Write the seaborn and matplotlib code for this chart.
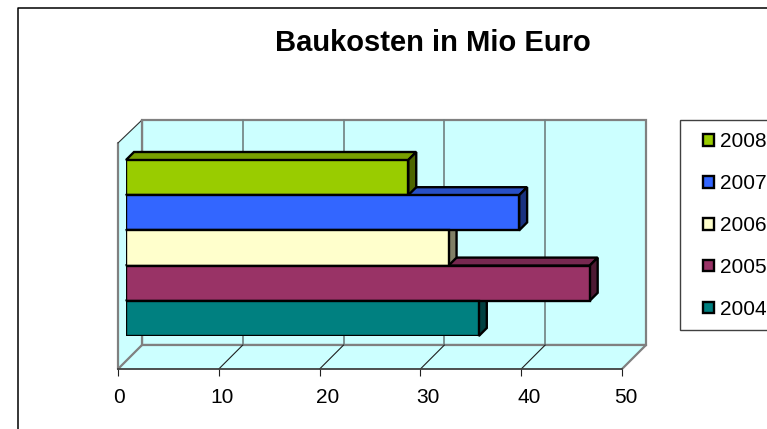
import numpy as np
import pandas as pd
import matplotlib
matplotlib.use("Agg")
import matplotlib.pyplot as plt
import seaborn as sns
from matplotlib.colors import to_rgb
from matplotlib.legend_handler import HandlerPatch
from matplotlib.lines import Line2D
from matplotlib.patches import Patch, Polygon, Rectangle
from matplotlib.transforms import IdentityTransform, ScaledTranslation

years = ["2008", "2007", "2006", "2005", "2004"]
costs = [28, 39, 32, 46, 35]
colors = ["#99CC00", "#3366FF", "#FFFFCC", "#993366", "#008080"]
ticks = [0, 10, 20, 30, 40, 50]
title = "Baukosten in Mio Euro"

W, H = 767, 429
sns.set_theme(style="white")
plt.rcParams["font.family"] = ["Liberation Sans", "DejaVu Sans"]
fig = plt.figure(figsize=(W / 100, H / 100), dpi=100, facecolor="white")


def box(left, top, right, bottom):
    return [left / W, (H - bottom) / H, (right - left) / W, (bottom - top) / H]


def flip(points):
    return [(x, H - y) for x, y in points]


# axis on the front edge of the floor, walls are drawn on this one too
ax2 = fig.add_axes(box(118, 143, 622, 369), zorder=0, facecolor="none")
ax2.set_xlim(0, 50)
ax2.set_yticks([])
for s in ["left", "top", "right"]:
    ax2.spines[s].set_visible(False)
ax2.spines["bottom"].set_color("#404040")
ax2.spines["bottom"].set_linewidth(1.3)
ax2.set_xticks(ticks)
ax2.tick_params(axis="x", length=5, width=0.8, color="#202020", pad=9,
                labelsize=15, labelcolor="black", bottom=True)
shifts = [1, 3, 8, 8, 8, 4]
for lab, s in zip(ax2.get_xticklabels(), shifts):
    lab.set_transform(lab.get_transform() + ScaledTranslation(s / 100, 0, fig.dpi_scale_trans))


def wall(points, **kw):
    ax2.add_patch(Polygon(flip(points), closed=True, transform=IdentityTransform(),
                          clip_on=False, **kw))


def line(xs, ys, color, lw):
    ax2.add_line(Line2D(xs, [H - y for y in ys], color=color, lw=lw,
                        transform=IdentityTransform(), clip_on=False))


cyan = "#CCFFFF"
gray = "#808080"
wall([(142, 120), (646, 120), (646, 345), (142, 345)], fc=cyan, ec=gray, lw=1.6)
wall([(118, 143), (142, 120), (142, 345), (118, 369)], fc=cyan, ec="none")
wall([(118, 369), (142, 345), (646, 345), (622, 369)], fc=cyan, ec="none")
line([118, 118], [143, 369], gray, 1.6)
line([118, 142], [143, 120], "#303030", 0.8)
line([118, 142], [369, 345], gray, 1.6)
line([622, 646], [369, 345], gray, 1.6)
line([142, 646], [345, 345], gray, 1.6)
line([142, 142], [120, 345], gray, 1.6)
for t in ticks[1:-1]:
    gx = 142 + t * 10.08
    line([gx, gx], [120, 345], "#708080", 1.2)
    line([gx - 24, gx], [369, 345], "#202020", 0.8)

# the bars themselves
df = pd.DataFrame({"year": years, "cost": costs})
ax = fig.add_axes(box(126, 160, 630, 336), zorder=1, facecolor="none")
sns.barplot(data=df, x="cost", y="year", hue="year", order=years, hue_order=years,
            palette=colors, width=1, dodge=False, legend=False, saturation=1,
            edgecolor="black", linewidth=1.7, ax=ax)
ax.set_xlim(0, 50)
ax.set_xticks([])
ax.set_yticks([])
ax.set_xlabel("")
ax.set_ylabel("")
sns.despine(ax=ax, left=True, bottom=True)
fig.canvas.draw()

# fake 3d: top and side of every bar, bottom one first
depth = 8
bars = [p for p in ax.patches if p.get_width() > 0]
bars = sorted(bars, key=lambda p: -p.get_y())
for i, bar in enumerate(bars):
    b = bar.get_window_extent()
    c = np.array(to_rgb(bar.get_facecolor()))
    top = [(b.x0, b.y1), (b.x0 + depth, b.y1 + depth), (b.x1 + depth, b.y1 + depth), (b.x1, b.y1)]
    side = [(b.x1, b.y1), (b.x1 + depth, b.y1 + depth), (b.x1 + depth, b.y0 + depth), (b.x1, b.y0)]
    for pts, k in [(top, 0.78), (side, 0.5)]:
        ax.add_patch(Polygon(pts, closed=True, fc=c * k, ec="black", lw=1.7,
                             transform=IdentityTransform(), clip_on=False, zorder=0.5 + i * 0.01))
    bar.set_zorder(2)


def small_square(legend, orig_handle, xdescent, ydescent, width, height, fontsize):
    size = 8.2
    return Rectangle((width - size, (height - size) / 2 - 0.3), size, size)


handles = [Patch(facecolor=c, edgecolor="black", linewidth=1.7, label=y) for c, y in zip(colors, years)]
leg = fig.legend(handles=handles, loc="upper left", bbox_to_anchor=(680 / W, (H - 120) / H),
                 fontsize=15, frameon=True, fancybox=False, framealpha=1, edgecolor="#404040",
                 borderpad=0.57, borderaxespad=0, labelspacing=1.1, handlelength=1.08,
                 handletextpad=0.25, labelcolor="black",
                 handler_map={Patch: HandlerPatch(patch_func=small_square)})
leg.get_frame().set_linewidth(1.0)

fig.text(432.5 / W, (H - 43) / H, title, ha="center", va="center", fontsize=21,
         fontweight="bold", color="black")

# outer chart border, runs off the right and bottom
fig.add_artist(Line2D([18, 18, W], [0, H - 8, H - 8], color="black", lw=1.1,
                      transform=IdentityTransform()))

fig.savefig("out.png", dpi=100, facecolor="white")
